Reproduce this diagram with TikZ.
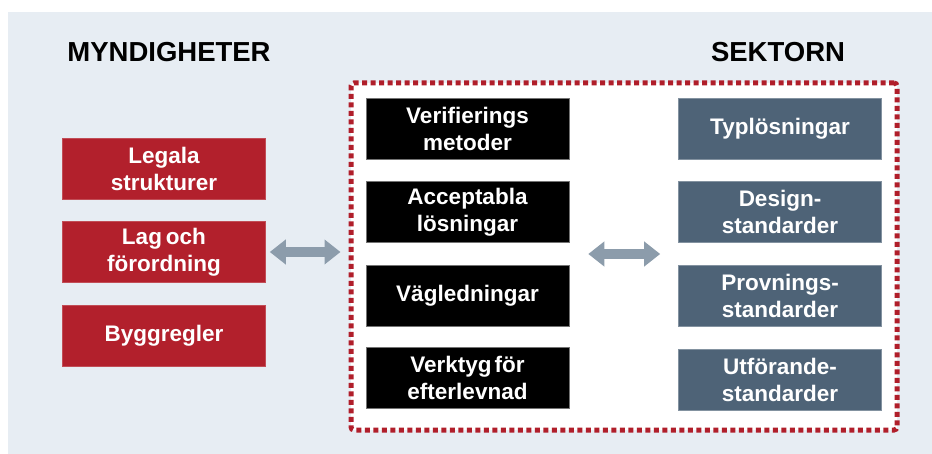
\documentclass[tikz,border=0pt]{standalone}
\usepackage{fontspec}
\setmainfont{Liberation Sans}
\usetikzlibrary{arrows.meta,calc}
\definecolor{bgcol}{HTML}{E7EDF3}
\definecolor{redbox}{HTML}{B2202C}
\definecolor{bluebox}{HTML}{4E6377}
\definecolor{arrowcol}{HTML}{8C9CAB}
\definecolor{framecol}{HTML}{B01E2A}
\newcommand{\boxfont}{\bfseries\fontsize{22.5}{27}\selectfont}
\begin{document}
\begin{tikzpicture}[x=1pt,y=-1pt,
  box/.style={minimum width=203pt,minimum height=61pt,inner sep=0pt,align=center,text=white,
    font=\boxfont},
  redb/.style={box,fill=redbox,draw=redbox!80!white,line width=0.6pt},
  blackb/.style={box,fill=black,draw=black!55,line width=0.6pt},
  blueb/.style={box,fill=bluebox,draw=bluebox!70!white,line width=0.6pt},
  title/.style={font=\bfseries\fontsize{27.5}{30}\selectfont,text=black},
  dblarrow/.style={draw=arrowcol,line width=10pt,{Triangle[width=24pt,length=16pt]}-{Triangle[width=24pt,length=16pt]}}
]
\useasboundingbox (0,0) rectangle (932,454);
\fill[white] (0,0) rectangle (932,454);
\fill[bgcol] (8,12) rectangle (932,454);

\node[title] (myn) at (169,52) {MYNDIGHETER};
\node[title] (sek) at (778,52) {SEKTORN};

\node[draw=framecol,fill=white,line width=5pt,dash pattern=on 5pt off 3.5pt,rounded corners=3pt,
  minimum width=546pt,minimum height=347pt,inner sep=0pt] (frame) at (624,256.5) {};

\node[redb] (leg) at (164,168.5) {Legala\\strukturer};
\node[redb] (lag) at (164,252) {Lag\hspace{4pt}och\\förordning};
\node[redb] (byg) at (164,335.5) {Byggregler};

\node[blackb] (ver) at (467.5,128.5) {Verifierings\\metoder};
\node[blackb] (acc) at (467.5,212) {Acceptabla\\lösningar};
\node[blackb] (vag) at (467.5,296) {Vägledningar};
\node[blackb] (vkt) at (467.5,378) {Verktyg\hspace{3pt}för\\efterlevnad};

\node[blueb] (typ) at (780,128.5) {Typlösningar};
\node[blueb] (des) at (780,212) {Design-\\standarder};
\node[blueb] (pro) at (780,296) {Provnings-\\standarder};
\node[blueb] (utf) at (780,379.5) {Utförande-\\standarder};

\coordinate (fw) at (frame.west |- lag.east);
\draw[dblarrow,shorten <=4pt,shorten >=8pt] (lag.east) -- (fw);

\coordinate (mb) at ($(acc.south east)!0.5!(vag.north east)$);
\coordinate (mu) at (des.west |- mb);
\draw[dblarrow,shorten <=19pt,shorten >=18pt] (mb) -- (mu);
\end{tikzpicture}
\end{document}
